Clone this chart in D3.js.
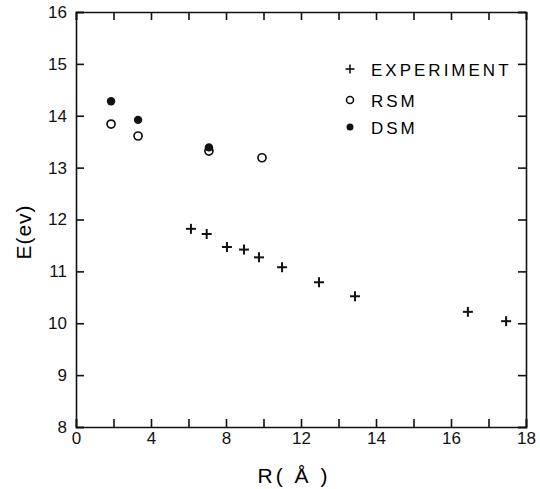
<!DOCTYPE html>
<html>
<head>
<meta charset="utf-8">
<script src="https://cdn.jsdelivr.net/npm/d3@7"></script>
<style>
body { margin: 0; background: #fff; }
svg { display: block; }
.axis path, .axis line { stroke: #111; stroke-width: 1.6; }
.axis text { font-family: "Liberation Sans", Arial, sans-serif; font-size: 17px; fill: #111; }
</style>
</head>
<body>
<svg id="chart" width="540" height="489"></svg>
<script>
// experiment points (R in the axis' own units, E in eV)
var expR = [6.13, 6.97, 8.05, 8.96, 9.76, 10.99, 12.48, 13.44, 16.45, 17.47];
var expE = [11.82, 11.72, 11.47, 11.42, 11.27, 11.08, 10.79, 10.52, 10.22, 10.04];
var rsmR = [1.87, 3.31, 7.09, 9.92];
var rsmE = [13.84, 13.61, 13.32, 13.19];
var dsmR = [1.87, 3.31, 7.09];
var dsmE = [14.28, 13.92, 13.39];

var xTicks = [0, 2, 4, 6, 8, 10, 12, 13, 14, 15, 16, 17, 18];
var xLabels = [0, 4, 8, 12, 14, 16, 18];
var yTicks = [8, 9, 10, 11, 12, 13, 14, 15, 16];
var legendNames = ["EXPERIMENT", "RSM", "DSM"];

var svg = d3.select("#chart"),
	plotLeft = 76, plotRight = 526, plotTop = 12, plotBottom = 427;

// the R axis is stretched past 12, so the scale has a break point there
var x = d3.scaleLinear().domain([0, 12, 18]).range([plotLeft, 301, plotRight]);
var y = d3.scaleLinear().domain([8, 16]).range([plotBottom, plotTop]);

svg.append("g").attr("class", "axis")
	.attr("transform", "translate(0," + plotBottom + ")")
	.call(d3.axisBottom(x).tickValues(xTicks).tickSize(-8).tickPadding(5)
		.tickFormat(function(d) { return xLabels.indexOf(d) >= 0 ? d : ""; }));
svg.append("g").attr("class", "axis")
	.attr("transform", "translate(0," + plotTop + ")")
	.call(d3.axisTop(x).tickValues(xTicks).tickSize(-8).tickFormat(""));
svg.append("g").attr("class", "axis")
	.attr("transform", "translate(" + plotLeft + ",0)")
	.call(d3.axisLeft(y).tickValues(yTicks).tickSize(-8).tickPadding(9));
svg.append("g").attr("class", "axis")
	.attr("transform", "translate(" + plotRight + ",0)")
	.call(d3.axisRight(y).tickValues(yTicks).tickSize(-8).tickFormat(""));
svg.selectAll(".axis .domain").attr("stroke-width", 1.8);

// axis titles
svg.append("text")
	.attr("transform", "translate(31," + 232 + ") rotate(-90)")
	.attr("text-anchor", "middle")
	.style("font-family", "Liberation Sans, Arial, sans-serif")
	.style("font-size", "21px")
	.style("letter-spacing", "1px")
	.text("E(ev)");
svg.append("text")
	.attr("x", 294).attr("y", 483)
	.attr("text-anchor", "middle")
	.style("font-family", "Liberation Sans, Arial, sans-serif")
	.style("font-size", "21px")
	.style("letter-spacing", "3px")
	.text("R( Å )");

function cross(sel, s) {
	sel.append("line").attr("x1", -s).attr("x2", s).attr("y1", 0).attr("y2", 0);
	sel.append("line").attr("x1", 0).attr("x2", 0).attr("y1", -s).attr("y2", s);
}

var expData = expR.map(function(r, i) { return {r: r, e: expE[i]}; });
var rsmData = rsmR.map(function(r, i) { return {r: r, e: rsmE[i]}; });
var dsmData = dsmR.map(function(r, i) { return {r: r, e: dsmE[i]}; });

svg.append("g").selectAll("g").data(expData).enter().append("g")
	.attr("transform", function(d) { return "translate(" + x(d.r) + "," + y(d.e) + ")"; })
	.attr("stroke", "#111").attr("stroke-width", 2)
	.call(cross, 5);

svg.append("g").selectAll("circle").data(dsmData).enter().append("circle")
	.attr("cx", function(d) { return x(d.r); })
	.attr("cy", function(d) { return y(d.e); })
	.attr("r", 4.2)
	.attr("fill", "#111");

svg.append("g").selectAll("circle").data(rsmData).enter().append("circle")
	.attr("cx", function(d) { return x(d.r); })
	.attr("cy", function(d) { return y(d.e); })
	.attr("r", 4)
	.attr("fill", "none")
	.attr("stroke", "#111").attr("stroke-width", 1.7);

// legend
var legend = svg.append("g");
var ly = [69, 100, 127];
legendNames.forEach(function(name, i) {
	var g = legend.append("g").attr("transform", "translate(350," + ly[i] + ")");
	if (i == 0) {
		g.attr("stroke", "#111").attr("stroke-width", 1.6).call(cross, 4.5);
	} else if (i == 1) {
		g.append("circle").attr("r", 3.5).attr("fill", "none").attr("stroke", "#111").attr("stroke-width", 1.6);
	} else {
		g.append("circle").attr("r", 3.5).attr("fill", "#111");
	}
	legend.append("text")
		.attr("x", 371).attr("y", ly[i] + 7)
		.style("font-family", "Liberation Sans, Arial, sans-serif")
		.style("font-size", "17px")
		.style("letter-spacing", "3px")
		.text(name);
});
</script>
</body>
</html>
